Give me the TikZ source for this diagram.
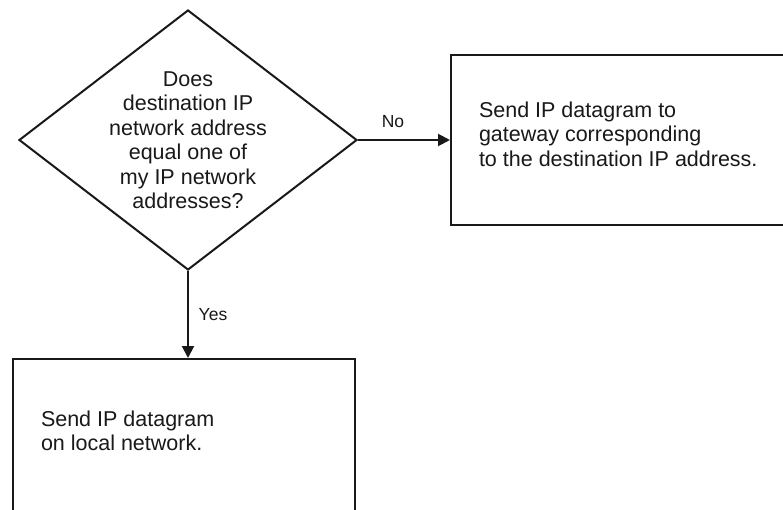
\documentclass[tikz,border=0pt]{standalone}
\usepackage{fontspec}
\setmainfont{Liberation Sans}
\usetikzlibrary{shapes.geometric,arrows.meta}
\begin{document}
\begin{tikzpicture}[x=1pt,y=-1pt,
  line width=2pt,
  txt/.style={font=\fontsize{21.5}{24.5}\selectfont, inner sep=0pt, text=black!90},
  lbl/.style={font=\fontsize{17.5}{20}\selectfont, inner sep=0pt, text=black!90},
  boxstyle/.style={draw=black!90, rectangle, inner sep=0pt},
  conn/.style={draw=black!90, -{Triangle[length=12pt,width=12pt]}}]
\clip (0,0) rectangle (783,510);
\fill[white] (0,0) rectangle (783,510);
% decision diamond
\node[draw=black!90, diamond, minimum width=338pt, minimum height=260pt, inner sep=0pt] (q) at (188,140) {};
\node[txt, align=center] (qt) at (188,140) {Does\\destination IP\\network address\\equal one of\\my IP network\\addresses?};
% right box
\node[boxstyle, minimum width=340pt, minimum height=170pt, anchor=north west] (gw) at (450,54) {};
\node[txt, align=left, anchor=west] (gwt) at (478,134) {Send IP datagram to\\gateway corresponding\\to the destination IP address.};
% bottom box
\node[boxstyle, minimum width=342pt, minimum height=170pt, anchor=north west] (loc) at (12,358) {};
\node[txt, align=left, anchor=west] (loct) at (40,431) {Send IP datagram\\on local network.};
% connectors
\draw[conn] (q.east) -- (gw.west |- q.east);
\draw[conn] (q.south) -- (loc.north -| q.south);
\node[lbl] (no) at (393,122) {No};
\node[lbl] (yes) at (213,315) {Yes};
\end{tikzpicture}
\end{document}
